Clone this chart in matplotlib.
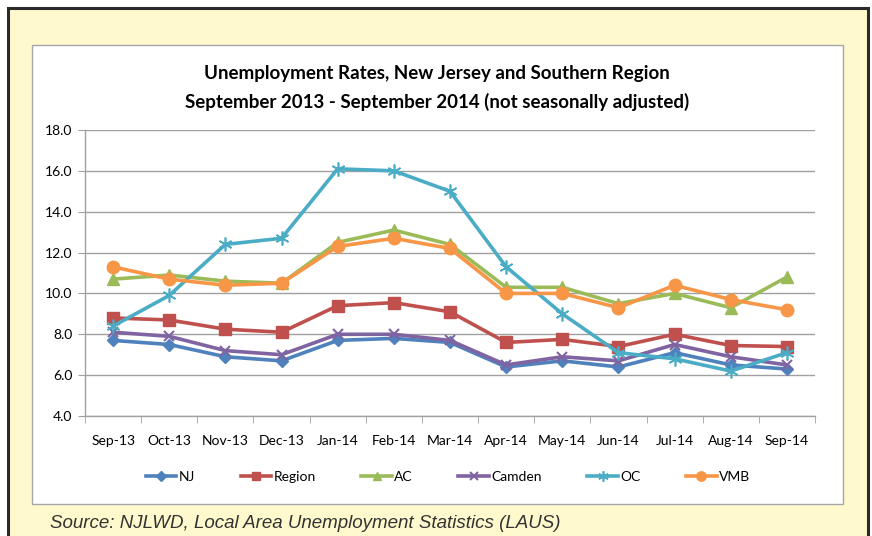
import matplotlib
matplotlib.use("Agg")
import matplotlib.pyplot as plt
from matplotlib.patches import Rectangle
import numpy as np

months = ["Sep-13", "Oct-13", "Nov-13", "Dec-13", "Jan-14", "Feb-14", "Mar-14",
          "Apr-14", "May-14", "Jun-14", "Jul-14", "Aug-14", "Sep-14"]
nj =     [7.7, 7.5, 6.9, 6.7, 7.7, 7.8, 7.6, 6.4, 6.7, 6.4, 7.1, 6.5, 6.3]
region = [8.8, 8.7, 8.25, 8.1, 9.4, 9.55, 9.1, 7.6, 7.75, 7.4, 8.0, 7.45, 7.4]
ac =     [10.7, 10.9, 10.6, 10.5, 12.5, 13.1, 12.4, 10.3, 10.3, 9.5, 10.0, 9.3, 10.8]
camden = [8.1, 7.9, 7.2, 7.0, 8.0, 8.0, 7.7, 6.5, 6.9, 6.7, 7.5, 6.9, 6.5]
oc =     [8.4, 9.9, 12.4, 12.7, 16.1, 16.0, 15.0, 11.3, 9.0, 7.1, 6.8, 6.2, 7.1]
vmb =    [11.3, 10.7, 10.4, 10.5, 12.3, 12.7, 12.2, 10.0, 10.0, 9.3, 10.4, 9.7, 9.2]
yticks = [4.0, 6.0, 8.0, 10.0, 12.0, 14.0, 16.0, 18.0]

W, H = 872, 536
fig = plt.figure(figsize=(W / 100, H / 100), dpi=100)
fig.patch.set_facecolor("white")

def fx(px):
    return px / W

def fy(py):
    return 1 - py / H

# outer yellow panel with dark border
fig.patches.append(Rectangle((fx(8), fy(545)), fx(860), (545 - 8) / H,
                             transform=fig.transFigure, facecolor="#FFF9CD",
                             edgecolor="#2a2a2a", linewidth=2.2, zorder=0))
# white chart box
fig.patches.append(Rectangle((fx(32), fy(504)), fx(811), (504 - 45) / H,
                             transform=fig.transFigure, facecolor="white",
                             edgecolor="#A6A6A6", linewidth=1.0, zorder=1))

ax = fig.add_axes([fx(85), fy(416), fx(730), (416 - 130) / H])
ax.set_facecolor("none")
ax.set_zorder(2)

x = np.arange(len(months))
series = [
    ("NJ", nj, "#4F81BD", "D", 6.5, None),
    ("Region", region, "#C0504D", "s", 8.5, None),
    ("AC", ac, "#9BBB59", "^", 8.5, None),
    ("Camden", camden, "#8064A2", "x", 7.5, 1.5),
    ("OC", oc, "#4BACC6", (6, 2, 0), 10, 1.2),
    ("VMB", vmb, "#F79646", "o", 9, None),
]
for name, vals, col, mk, ms, mew in series:
    kw = {}
    if mew is not None:
        kw["markeredgewidth"] = mew
    ax.plot(x, vals, color=col, linewidth=2.6, marker=mk, markersize=ms,
            markerfacecolor=col, markeredgecolor=col, label=name,
            solid_joinstyle="round", clip_on=False, **kw)

ax.set_xlim(-0.5, len(months) - 0.5)
ax.set_ylim(4, 18)
ax.set_yticks(yticks)
ax.set_yticklabels([f"{v:.1f}" for v in yticks])
ax.yaxis.grid(True, color="#A0A0A0", linewidth=1.0)
ax.set_axisbelow(True)
ax.set_xticks(x)
ax.set_xticklabels(months)
ax.set_xticks(np.arange(-0.5, len(months), 1.0), minor=True)
ax.tick_params(axis="x", which="major", length=0, pad=14, labelsize=10,
               labelcolor="black")
ax.tick_params(axis="x", which="minor", length=5, color="#A0A0A0",
               direction="out")
ax.tick_params(axis="y", length=5, color="#A0A0A0", direction="out",
               pad=4, labelsize=10)
for lab in ax.get_xticklabels() + ax.get_yticklabels():
    lab.set_fontfamily(["Lato", "DejaVu Sans"])
for s in ["top", "right"]:
    ax.spines[s].set_visible(False)
for s in ["left", "bottom"]:
    ax.spines[s].set_color("#A0A0A0")
    ax.spines[s].set_linewidth(1.0)

fig.text(fx(437), fy(74), "Unemployment Rates, New Jersey and Southern Region",
         ha="center", va="center", fontsize=13.5, fontweight="bold",
         family=["Lato", "DejaVu Sans"], zorder=5)
fig.text(fx(437), fy(102), "September 2013 - September 2014 (not seasonally adjusted)",
         ha="center", va="center", fontsize=13.5, fontweight="bold",
         family=["Lato", "DejaVu Sans"], zorder=5)

handles, labels = ax.get_legend_handles_labels()
leg = fig.legend(handles, labels, loc="center", bbox_to_anchor=(fx(448), fy(477)),
                 ncol=6, frameon=False, handlelength=2.2, handletextpad=0.15,
                 columnspacing=3.3, prop={"family": "Lato", "size": 10},
                 markerscale=0.75)

fig.text(fx(50), fy(524), "Source: NJLWD, Local Area Unemployment Statistics (LAUS)",
         ha="left", va="center", fontsize=13.5, fontstyle="italic",
         family=["Liberation Sans", "DejaVu Sans"], color="#333333", zorder=5)

fig.savefig("out.png", dpi=100)
